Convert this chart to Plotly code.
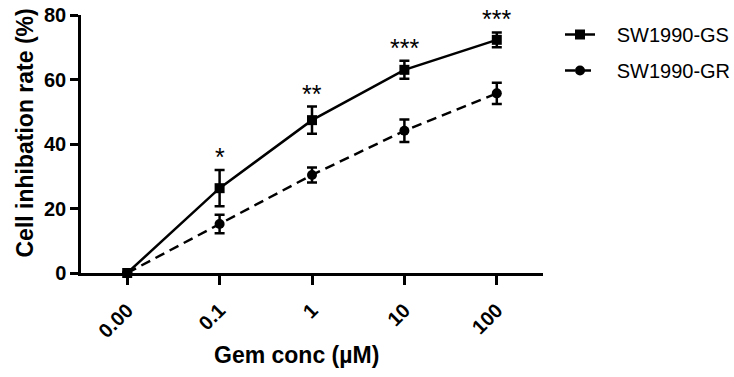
import plotly.graph_objects as go

categories = ["0.00", "0.1", "1", "10", "100"]
gs_mean = [0.0, 26.3, 47.4, 63.0, 72.3]
gs_sd = [0.0, 5.6, 4.2, 2.8, 2.3]
gr_mean = [0.0, 15.2, 30.4, 44.1, 55.7]
gr_sd = [0.0, 2.9, 2.3, 3.5, 3.3]
sig_labels = ["", "*", "**", "***", "***"]
yticks = [0, 20, 40, 60, 80]

FONT = "Liberation Sans, Arial, sans-serif"
xpos = list(range(len(categories)))
PAD = "\u00a0\u00a0\u00a0"

W, H = 734, 377
L, B = 81, 104
PW, PH = W - L, H - B          # paper area (no right/top margin)
AX_R, AX_T = 543, 15           # plot area right / top in pixels


def px(x):
    return (x - L) / PW


def py(y):
    return (PH - y) / PH


fig = go.Figure()
fig.add_trace(go.Scatter(
    x=xpos, y=gs_mean, name=PAD + "SW1990-GS", mode="lines+markers",
    line=dict(color="black", width=2.5),
    marker=dict(symbol="square", size=10, color="black"),
    error_y=dict(type="data", array=gs_sd, color="black", thickness=2.5, width=5),
    cliponaxis=False, legendgroup="a",
))
fig.add_trace(go.Scatter(
    x=xpos, y=gr_mean, name=PAD + "SW1990-GR", mode="lines+markers",
    line=dict(color="black", width=2.5, dash="10px,6px"),
    marker=dict(symbol="circle", size=10, color="black"),
    error_y=dict(type="data", array=gr_sd, color="black", thickness=2.5, width=5),
    cliponaxis=False, legendgroup="b",
))

for i, lab in enumerate(sig_labels):
    if lab:
        fig.add_annotation(x=xpos[i], y=gs_mean[i] + gs_sd[i], xref="x", yref="y",
                           text=lab, showarrow=False, yanchor="middle", yshift=13,
                           font=dict(family=FONT, size=25, color="black"))

fig.add_annotation(x=px(24), y=py(133.5), xref="paper", yref="paper",
                   text="Cell inhibation rate (%)", textangle=-90, showarrow=False,
                   xanchor="center", yanchor="middle",
                   font=dict(family=FONT, size=23, color="black", weight="bold"))
fig.add_annotation(x=px(296), y=py(355), xref="paper", yref="paper",
                   text="Gem conc (µM)", showarrow=False,
                   xanchor="center", yanchor="middle",
                   font=dict(family=FONT, size=23, color="black", weight="bold"))

fig.update_layout(
    width=W, height=H,
    margin=dict(l=L, r=0, t=0, b=B, autoexpand=False),
    paper_bgcolor="white", plot_bgcolor="white",
    showlegend=True,
    legend=dict(x=px(560), y=py(15), xanchor="left", yanchor="top",
                font=dict(family=FONT, size=20, color="black"),
                tracegroupgap=7, bgcolor="rgba(0,0,0,0)"),
    xaxis=dict(domain=[0, (AX_R - L) / PW], automargin=False,
               range=[-0.5, 4.5], tickmode="array", tickvals=xpos, ticktext=categories,
               tickangle=-45, showline=True, linecolor="black", linewidth=2.5,
               ticks="outside", ticklen=9, tickwidth=2.5, tickcolor="black",
               showgrid=False, zeroline=False, ticklabelstandoff=6,
               tickfont=dict(family=FONT, size=20, color="black", weight="bold")),
    yaxis=dict(domain=[0, (PH - AX_T) / PH], automargin=False,
               range=[0, 80], tickvals=yticks, showline=True, linecolor="black",
               linewidth=2.5, ticks="outside", ticklen=8, tickwidth=2.5, tickcolor="black",
               showgrid=False, zeroline=False,
               tickfont=dict(family=FONT, size=20, color="black", weight="bold")),
)

fig.write_html("out.html")
